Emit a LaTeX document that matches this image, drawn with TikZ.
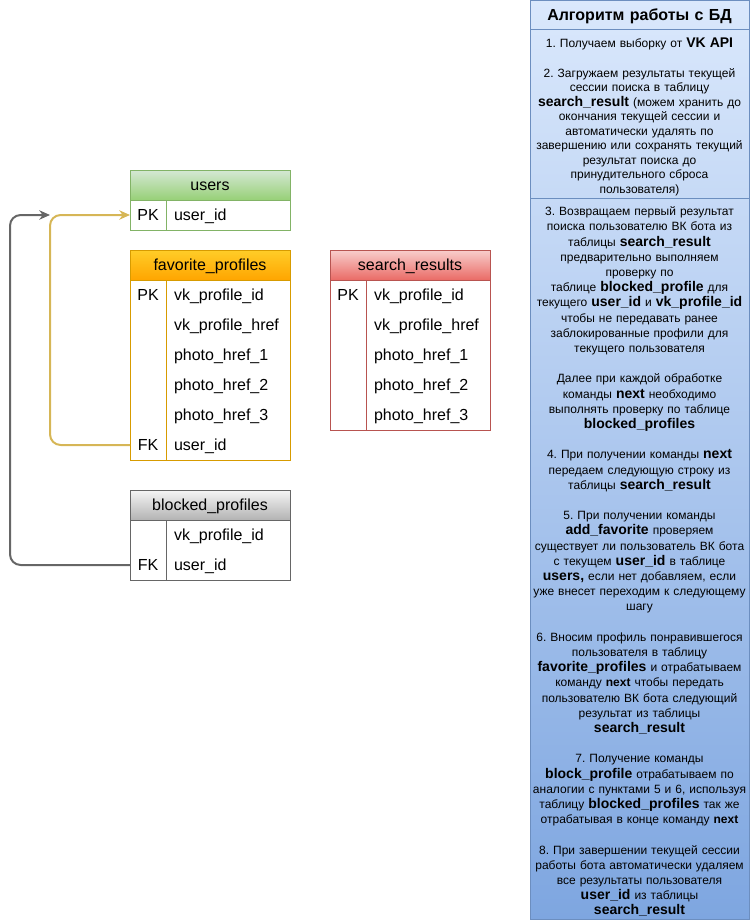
\documentclass[tikz,border=0pt]{standalone}
\usepackage{fontspec}
\setmainfont{Liberation Sans}
\definecolor{usersTop}{HTML}{D5E8D4}
\definecolor{usersBottom}{HTML}{97D077}
\definecolor{usersLine}{HTML}{82B366}
\definecolor{favTop}{HTML}{FFCD28}
\definecolor{favBottom}{HTML}{FFA500}
\definecolor{favLine}{HTML}{D79B00}
\definecolor{searchTop}{HTML}{F8CECC}
\definecolor{searchBottom}{HTML}{EA6B66}
\definecolor{searchLine}{HTML}{B85450}
\definecolor{blockTop}{HTML}{F5F5F5}
\definecolor{blockBottom}{HTML}{B3B3B3}
\definecolor{blockLine}{HTML}{666666}
\definecolor{panelTop}{HTML}{DAE8FC}
\definecolor{panelBottom}{HTML}{7EA6E0}
\definecolor{panelLine}{HTML}{6C8EBF}
\definecolor{linkGold}{HTML}{D6B656}
\usepackage{tikz}
\usetikzlibrary{arrows.meta, positioning, backgrounds}
\newcommand{\kw}[1]{{\fontsize{10.5}{11.4}\selectfont\bfseries #1}}
\frenchspacing

\begin{document}
\begin{tikzpicture}[
    x=0.75pt, y=-0.75pt,
    head/.style={
      minimum width=120pt,
      minimum height=22.5pt,
      inner sep=0pt,
      outer sep=0pt,
      line width=0.75pt,
      text height=9.5pt,
      text depth=1.2pt,
      font=\fontsize{12}{14}\selectfont,
    },
    field/.style={minimum height=22.5pt, text width=87pt, text height=9.5pt, text depth=1.2pt, inner sep=0pt, outer sep=0pt, align=left, font=\fontsize{12}{14}\selectfont},
    key/.style={minimum width=27pt, minimum height=22.5pt, text height=9.5pt, text depth=1.2pt, inner sep=0pt, outer sep=0pt, font=\fontsize{12}{14}\selectfont},
    tab/.style={line width=0.75pt},
    link/.style={-{Stealth[length=8pt, width=7pt, inset=2.5pt]}, line width=1.5pt, rounded corners=8pt},
    panelbox/.style={
      draw=panelLine,
      line width=0.75pt,
      text width=161pt,
      inner xsep=1.625pt,
      inner ysep=0pt,
      outer sep=0pt,
      align=center,
      font=\fontsize{9}{10.9}\selectfont,
    },
  ]
    \useasboundingbox (0,0) rectangle (751,921);

    % users
    \node[head, draw=usersLine, top color=usersTop, bottom color=usersBottom, anchor=north west] (users) at (130,170) {users};
    \node[field, below=0pt of users.south east, anchor=north east] (u1) {user\_id};
    \node[key, left=6pt of u1] (upk) {PK};
    \draw[tab, usersLine] (users.south west) rectangle (u1.south east);
    \draw[tab, usersLine] ([xshift=27pt]users.south west) -- ([xshift=27pt]users.south west |- u1.south);

    % favorite_profiles
    \node[head, draw=favLine, top color=favTop, bottom color=favBottom, anchor=north west] (fav) at (130,250) {favorite\_profiles};
    \node[field, below=0pt of fav.south east, anchor=north east] (f1) {vk\_profile\_id};
    \node[field, below=0pt of f1] (f2) {vk\_profile\_href};
    \node[field, below=0pt of f2] (f3) {photo\_href\_1};
    \node[field, below=0pt of f3] (f4) {photo\_href\_2};
    \node[field, below=0pt of f4] (f5) {photo\_href\_3};
    \node[field, below=0pt of f5] (f6) {user\_id};
    \node[key, left=6pt of f1] (fpk) {PK};
    \node[key, left=6pt of f6] (ffk) {FK};
    \draw[tab, favLine] (fav.south west) rectangle (f6.south east);
    \draw[tab, favLine] ([xshift=27pt]fav.south west) -- ([xshift=27pt]fav.south west |- f6.south);

    % search_results
    \node[head, draw=searchLine, top color=searchTop, bottom color=searchBottom, anchor=north west] (search) at (330,250) {search\_results};
    \node[field, below=0pt of search.south east, anchor=north east] (s1) {vk\_profile\_id};
    \node[field, below=0pt of s1] (s2) {vk\_profile\_href};
    \node[field, below=0pt of s2] (s3) {photo\_href\_1};
    \node[field, below=0pt of s3] (s4) {photo\_href\_2};
    \node[field, below=0pt of s4] (s5) {photo\_href\_3};
    \node[key, left=6pt of s1] (spk) {PK};
    \draw[tab, searchLine] (search.south west) rectangle (s5.south east);
    \draw[tab, searchLine] ([xshift=27pt]search.south west) -- ([xshift=27pt]search.south west |- s5.south);

    % blocked_profiles
    \node[head, draw=blockLine, top color=blockTop, bottom color=blockBottom, anchor=north west] (blocked) at (130,490) {blocked\_profiles};
    \node[field, below=0pt of blocked.south east, anchor=north east] (b1) {vk\_profile\_id};
    \node[field, below=0pt of b1] (b2) {user\_id};
    \node[key, left=6pt of b2] (bfk) {FK};
    \draw[tab, blockLine] (blocked.south west) rectangle (b2.south east);
    \draw[tab, blockLine] ([xshift=27pt]blocked.south west) -- ([xshift=27pt]blocked.south west |- b2.south);

    % links to users
    \coordinate (merge) at ([xshift=-60pt]upk.west);
    \draw[link, linkGold] (ffk.west) -- ++(-80,0) |- (upk.west);
    \draw[link, blockLine] (bfk.west) -- ++(-120,0) |- (merge);

    % algorithm panel
    \node[panelbox, anchor=north west, minimum height=21.75pt, text height=10pt, text depth=1.3pt, font=\fontsize{12}{14}\selectfont\bfseries] (algo) at (530,0) {Алгоритм работы с БД};
    \node[panelbox, below=0pt of algo, minimum height=126.75pt] (sec1) {
      \rule{0pt}{12.6pt}1. Получаем выборку от \kw{VK API}\\[10.9pt]
      2. Загружаем результаты текущей\\
      сессии поиска в таблицу\\
      \kw{search\_result} (можем хранить до\\
      окончания текущей сессии и\\
      автоматически удалять по\\
      завершению или сохранять текущий\\
      результат поиска до\\
      принудительного сброса\\
      пользователя)
    };
    \node[panelbox, below=0pt of sec1, minimum height=540.75pt, font=\fontsize{9}{11.4}\selectfont] (sec2) {
      \rule{0pt}{11.5pt}3. Возвращаем первый результат\\
      поиска пользователю ВК бота из\\
      таблицы \kw{search\_result}\\
      предварительно выполняем\\
      проверку по\\
      таблице \kw{blocked\_profile} для\\
      текущего \kw{user\_id} и \kw{vk\_profile\_id}\\
      чтобы не передавать ранее\\
      заблокированные профили для\\
      текущего пользователя\\[11.4pt]
      Далее при каждой обработке\\
      команды \kw{next} необходимо\\
      выполнять проверку по таблице\\
      \kw{blocked\_profiles}\\[11.4pt]
      4. При получении команды \kw{next}\\
      передаем следующую строку из\\
      таблицы \kw{search\_result}\\[11.4pt]
      5. При получении команды\\
      \kw{add\_favorite} проверяем\\
      существует ли пользователь ВК бота\\
      с текущем \kw{user\_id} в таблице\\
      \kw{users,} если нет добавляем, если\\
      уже внесет переходим к следующему\\
      шагу\\[11.4pt]
      6. Вносим профиль понравившегося\\
      пользователя в таблицу\\
      \kw{favorite\_profiles} и отрабатываем\\
      команду \textbf{next} чтобы передать\\
      пользователю ВК бота следующий\\
      результат из таблицы\\
      \kw{search\_result}\\[11.4pt]
      7. Получение команды\\
      \kw{block\_profile} отрабатываем по\\
      аналогии с пунктами 5 и 6, используя\\
      таблицу \kw{blocked\_profiles} так же\\
      отрабатывая в конце команду \textbf{next}\\[11.4pt]
      8. При завершении текущей сессии\\
      работы бота автоматически удаляем\\
      все результаты пользователя\\
      \kw{user\_id} из таблицы\\
      \kw{search\_result}
    };
    \begin{scope}[on background layer]
      \shade[top color=panelTop, bottom color=panelBottom] (algo.north west) rectangle (sec2.south east);
    \end{scope}
  \end{tikzpicture}
\end{document}
